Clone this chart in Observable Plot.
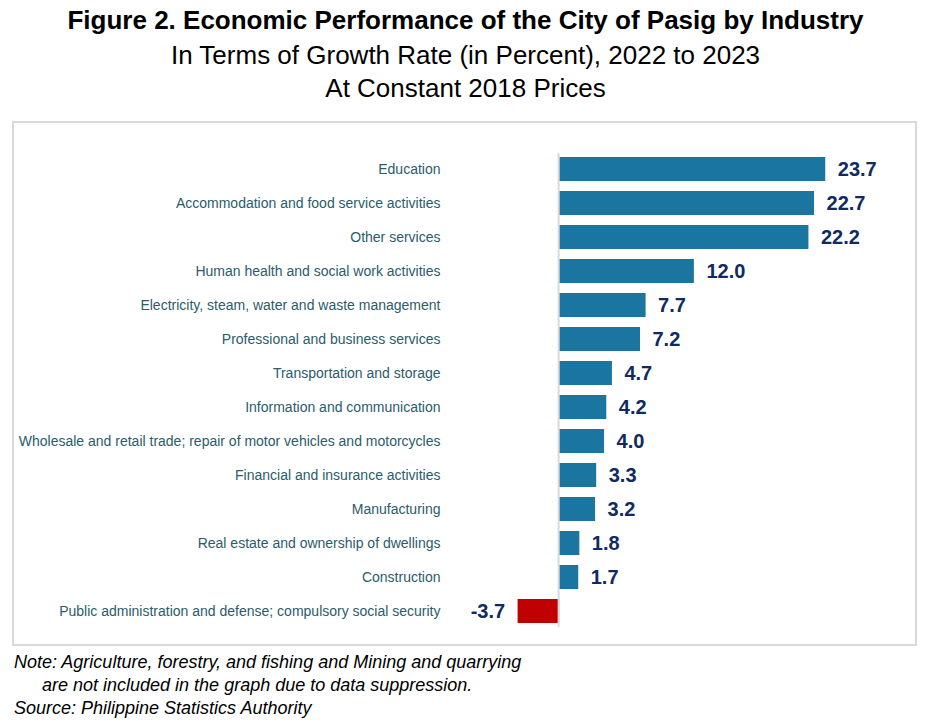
<!DOCTYPE html>
<html>
<head>
<meta charset="utf-8">
<script src="https://cdn.jsdelivr.net/npm/d3@7"></script>
<script src="https://cdn.jsdelivr.net/npm/@observablehq/plot@0.6"></script>
<style>
  html, body { margin: 0; padding: 0; background: #fff; }
  body { width: 931px; height: 725px; position: relative; overflow: hidden; font-family: Arial, "Liberation Sans", sans-serif; }
  .t { position: absolute; left: 0; width: 931px; text-align: center; color: #000; white-space: nowrap; line-height: 30px; }
  #t1 { top: 5px; font-size: 26px; font-weight: bold; }
  #t2 { top: 40px; font-size: 26px; }
  #t3 { top: 73px; font-size: 26px; }
  #box { position: absolute; left: 12px; top: 121px; width: 905px; height: 525px; box-sizing: border-box; border: 2px solid #d9d9d9; }
  #chart { position: absolute; left: 12px; top: 121px; }
  .note { position: absolute; font-size: 18px; font-style: italic; color: #000; white-space: nowrap; line-height: 22px; }
</style>
</head>
<body>
<div class="t" id="t1">Figure 2. Economic Performance of the City of Pasig by Industry</div>
<div class="t" id="t2">In Terms of Growth Rate (in Percent), 2022 to 2023</div>
<div class="t" id="t3">At Constant 2018 Prices</div>
<div id="box"></div>
<div id="chart"></div>
<div class="note" style="left:14px; top:651px;">Note: Agriculture, forestry, and fishing and Mining and quarrying</div>
<div class="note" style="left:42px; top:674px;">are not included in the graph due to data suppression.</div>
<div class="note" style="left:14px; top:697px;">Source: Philippine Statistics Authority</div>
<script>
const categories = [
  "Education",
  "Accommodation and food service activities",
  "Other services",
  "Human health and social work activities",
  "Electricity, steam, water and waste management",
  "Professional and business services",
  "Transportation and storage",
  "Information and communication",
  "Wholesale and retail trade; repair of motor vehicles and motorcycles",
  "Financial and insurance activities",
  "Manufacturing",
  "Real estate and ownership of dwellings",
  "Construction",
  "Public administration and defense; compulsory social security"
];
const growth = [23.7, 22.7, 22.2, 12.0, 7.7, 7.2, 4.7, 4.2, 4.0, 3.3, 3.2, 1.8, 1.7, -3.7];

const data = categories.map((c, i) => ({category: c, value: growth[i]}));
const pos = data.filter(d => d.value >= 0);
const neg = data.filter(d => d.value < 0);

const chart = Plot.plot({
  width: 905,
  height: 525,
  marginLeft: 491,
  marginRight: 21,
  marginTop: 22,
  marginBottom: 9,
  style: {fontFamily: 'Arial, "Liberation Sans", sans-serif', background: "transparent"},
  x: {domain: [-5, 30], axis: null},
  y: {domain: categories, padding: 0.29, label: null},
  marks: [
    Plot.axisY({tickSize: 0, tickPadding: 63, fontSize: 14, fill: "#2a5c6a", label: null}),
    Plot.barX(data, {x: "value", y: "category", fill: d => d.value < 0 ? "#c00000" : "#1a76a0"}),
    Plot.ruleX([0], {stroke: "#d9d9d9", strokeWidth: 2, dx: -1, insetTop: 10, insetBottom: 10}),
    Plot.text(pos, {x: "value", y: "category", text: d => d.value.toFixed(1), dx: 12, textAnchor: "start", fontSize: 20, fontWeight: "bold", fill: "#102a62"}),
    Plot.text(neg, {x: "value", y: "category", text: d => d.value.toFixed(1), dx: -13, textAnchor: "end", fontSize: 20, fontWeight: "bold", fill: "#102a62"})
  ]
});
document.getElementById("chart").appendChild(chart);
</script>
</body>
</html>
